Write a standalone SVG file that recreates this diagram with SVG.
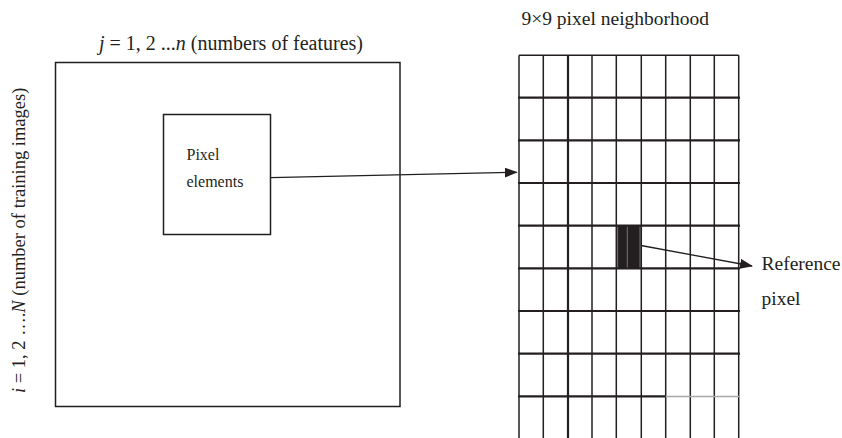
<svg xmlns="http://www.w3.org/2000/svg" width="842" height="438" viewBox="0 0 842 438">
<defs>
<style>
.t{font-family:"Liberation Serif","Times New Roman",serif;fill:#231f20}
.big{font-size:19.5px}
.sm{font-size:16px}
.box{fill:none;stroke:#231f20;stroke-width:1.5}
.v{stroke:#231f20;stroke-width:1.5}
.vt{stroke:#231f20;stroke-width:2.2}
.h{stroke:#231f20;stroke-width:2.2}
.conn{stroke:#231f20;stroke-width:1.3;fill:none}
</style>
<marker id="ah" markerUnits="userSpaceOnUse" markerWidth="13" markerHeight="10" refX="12" refY="5" orient="auto">
<path d="M0,0 L13,5 L0,10 z" fill="#231f20"/>
</marker>
</defs>
<rect width="842" height="438" fill="#fff"/>

<g id="matrix">
<rect class="box" x="55.5" y="62.5" width="344.5" height="344"/>
<text class="t" font-size="20" x="231" y="50" text-anchor="middle"><tspan font-style="italic">j</tspan> = 1, 2 ...<tspan font-style="italic">n</tspan> (numbers of features)</text>
<text class="t" font-size="18.5" transform="translate(25,393) rotate(-90)"><tspan font-style="italic">i</tspan> = 1, 2 ….<tspan font-style="italic">N</tspan> (number of training images)</text>
</g>

<g id="pixel-elements">
<rect class="box" x="163.5" y="114.5" width="107" height="120"/>
<text class="t sm" x="186.5" y="160">Pixel</text>
<text class="t sm" x="186.5" y="187">elements</text>
</g>

<g id="neighborhood">
<text class="t big" x="521.5" y="25">9×9 pixel neighborhood</text>
<rect x="616.3" y="225.7" width="25" height="42.7" fill="#231f20"/>
<g>
<line class="v" x1="519" y1="55.3" x2="519" y2="438"/>
<line class="v" x1="543.3" y1="55.3" x2="543.3" y2="438"/>
<line class="vt" x1="568" y1="55.3" x2="568" y2="438"/>
<line class="v" x1="592" y1="55.3" x2="592" y2="438"/>
<line class="v" x1="616.3" y1="55.3" x2="616.3" y2="438"/>
<line class="v" x1="641.3" y1="55.3" x2="641.3" y2="438"/>
<line class="v" x1="665.7" y1="55.3" x2="665.7" y2="438"/>
<line class="v" x1="690.3" y1="55.3" x2="690.3" y2="438"/>
<line class="v" x1="714.3" y1="55.3" x2="714.3" y2="438"/>
<line class="v" x1="738.7" y1="55.3" x2="738.7" y2="438"/>
</g>
<g>
<line class="v" x1="519" y1="55.3" x2="738.7" y2="55.3"/>
<line class="h" x1="518" y1="97.7" x2="740" y2="97.7"/>
<line class="h" x1="518" y1="140.4" x2="740" y2="140.4"/>
<line class="h" x1="518" y1="183" x2="740" y2="183"/>
<line class="h" x1="518" y1="225.7" x2="740" y2="225.7"/>
<line class="h" x1="518" y1="268.4" x2="740" y2="268.4"/>
<line class="h" x1="518" y1="311" x2="740" y2="311"/>
<line class="h" x1="518" y1="353.7" x2="740" y2="353.7"/>
<line class="h" x1="518" y1="396.4" x2="665.7" y2="396.4"/>
<line x1="665.7" y1="396.4" x2="740" y2="396.4" stroke="#a7a9ac" stroke-width="1.5"/>
</g>
<g stroke="#8a8a8a" stroke-width="0.8">
<line x1="617.6" y1="226.8" x2="617.6" y2="267.4"/>
<line x1="627.3" y1="226.8" x2="627.3" y2="267.4"/>
<line x1="640" y1="226.8" x2="640" y2="267.4"/>
</g>
</g>

<g id="reference-pixel">
<text class="t big" x="761.5" y="270">Reference</text>
<text class="t big" x="761.5" y="305">pixel</text>
</g>

<g id="connectors">
<line class="conn" x1="270.7" y1="177.7" x2="516.7" y2="172.3" marker-end="url(#ah)"/>
<line class="conn" x1="641" y1="245.5" x2="752" y2="266" marker-end="url(#ah)"/>
</g>
</svg>
